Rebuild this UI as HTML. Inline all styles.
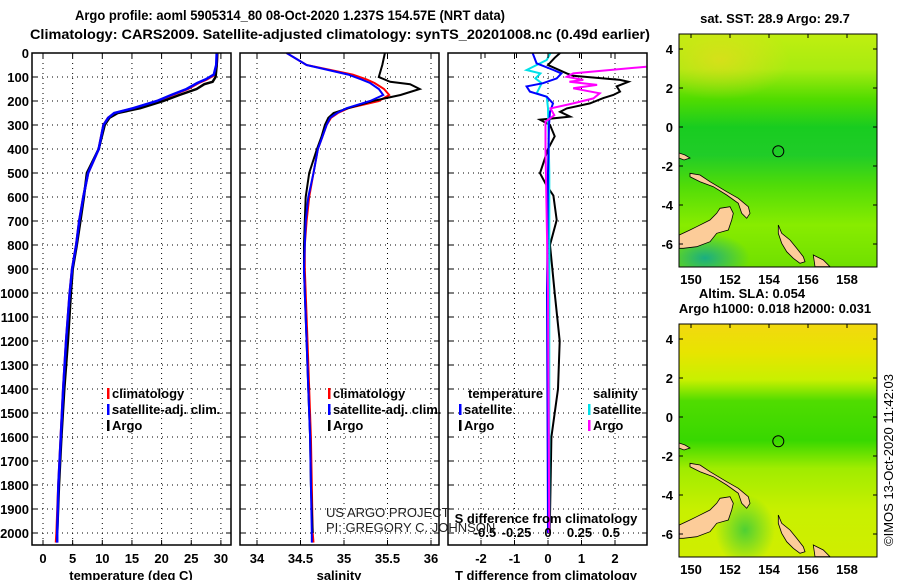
<!DOCTYPE html>
<html><head><meta charset="utf-8"><style>
html,body{margin:0;padding:0;background:#fff}
svg{display:block;font-family:"Liberation Sans",Arial,sans-serif}
text{font-weight:bold;font-size:13px;fill:#000}
</style></head><body>
<svg id="fig" width="900" height="580" viewBox="0 0 900 580" xmlns="http://www.w3.org/2000/svg">
<defs>
<linearGradient id="sstg" x1="0" y1="0" x2="0" y2="1">
<stop offset="0" stop-color="#c0ee10"/><stop offset="0.15" stop-color="#a8ec10"/><stop offset="0.28" stop-color="#50dc00"/><stop offset="0.4" stop-color="#18cc20"/><stop offset="0.52" stop-color="#20cc28"/><stop offset="0.65" stop-color="#50dc08"/><stop offset="0.82" stop-color="#88ec00"/><stop offset="1" stop-color="#70e000"/></linearGradient>
<radialGradient id="sstr" cx="0.5" cy="0.5" r="0.5">
<stop offset="0" stop-color="#f0d820" stop-opacity="0.6"/><stop offset="1" stop-color="#f0d820" stop-opacity="0"/></radialGradient>
<radialGradient id="teal" cx="0.5" cy="0.5" r="0.5">
<stop offset="0" stop-color="#10a890" stop-opacity="0.9"/><stop offset="1" stop-color="#10a890" stop-opacity="0"/></radialGradient>
<linearGradient id="slag" x1="0" y1="0" x2="0" y2="1">
<stop offset="0" stop-color="#f2d810"/><stop offset="0.12" stop-color="#e8e400"/><stop offset="0.24" stop-color="#c8f000"/><stop offset="0.33" stop-color="#50dc00"/><stop offset="0.5" stop-color="#38d800"/><stop offset="0.62" stop-color="#a0ec00"/><stop offset="0.8" stop-color="#c8f000"/><stop offset="1" stop-color="#d0ee00"/></linearGradient>
<radialGradient id="dg" cx="0.5" cy="0.5" r="0.5">
<stop offset="0" stop-color="#30c840" stop-opacity="0.8"/><stop offset="1" stop-color="#30c840" stop-opacity="0"/></radialGradient>
<clipPath id="c1"><rect x="679" y="34" width="198" height="233"/></clipPath>
<clipPath id="c2"><rect x="679" y="324" width="198" height="233"/></clipPath>
<clipPath id="p1"><rect x="32" y="53" width="199" height="492"/></clipPath>
<clipPath id="p2"><rect x="240" y="53" width="199" height="492"/></clipPath>
<clipPath id="p3"><rect x="448" y="53" width="199" height="492"/></clipPath>
<g id="land">
<polygon points="679.3,235 690,230 696.7,226.7 710,220 716.7,213.3 720,208.3 730,206.7 733.3,213.3 731.7,220 728.3,230 716.7,233.3 710,241.7 696.7,246.7 683.3,248.3 679.3,248.3" fill="#fccc99" stroke="#000" stroke-width="0.8"/>
<polygon points="690,173.3 700,175 710,181.7 726.7,191.7 738.3,198.3 748.3,206.7 750,213.3 746.7,218.3 741.7,213.3 738.3,203.3 726.7,195 713.3,186.7 700,181.7 690,176.7" fill="#fccc99" stroke="#000" stroke-width="0.8"/>
<polygon points="778.3,225 781.7,233.3 790,240 796.7,248.3 803.3,256.7 805,261.7 800,263.3 793.3,258.3 786.7,251.7 781.7,243.3 778.3,233.3" fill="#fccc99" stroke="#000" stroke-width="0.8"/>
<polygon points="813.3,255 823.3,260 830,266.7 815,266.7" fill="#fccc99" stroke="#000" stroke-width="0.8"/>
<polygon points="679,153 685,155 690,158 684,160 679,158" fill="#fccc99" stroke="#000" stroke-width="0.8"/>
</g>
</defs>
<text x="290" y="20" text-anchor="middle" style="font-size:14px" textLength="430" lengthAdjust="spacingAndGlyphs">Argo profile: aoml 5905314_80 08-Oct-2020 1.237S 154.57E (NRT data)</text>
<text x="340" y="39" text-anchor="middle" style="font-size:14px" textLength="620" lengthAdjust="spacingAndGlyphs">Climatology: CARS2009. Satellite-adjusted climatology: synTS_20201008.nc (0.49d earlier)</text>
<g id="panels"></g>
<g id="maps">
<text x="775" y="23" text-anchor="middle">sat. SST: 28.9 Argo: 29.7</text>
<g clip-path="url(#c1)">
<rect x="679" y="34" width="198" height="233" fill="url(#sstg)"/>
<ellipse cx="720" cy="60" rx="70" ry="40" fill="url(#sstr)"/>
<ellipse cx="705" cy="258" rx="45" ry="25" fill="url(#teal)"/>
<use href="#land"/>
<circle cx="778.3" cy="151.3" r="5.5" fill="none" stroke="#000" stroke-width="1"/>
</g>
<rect x="679" y="34" width="198" height="233" fill="none" stroke="#000" stroke-width="1"/>
<text x="752" y="298" text-anchor="middle">Altim. SLA: 0.054</text>
<text x="775" y="313" text-anchor="middle">Argo h1000: 0.018 h2000: 0.031</text>
<g clip-path="url(#c2)">
<rect x="679" y="324" width="198" height="233" fill="url(#slag)"/>
<ellipse cx="745" cy="530" rx="30" ry="35" fill="url(#dg)"/>
<use href="#land" transform="translate(0,290)"/>
<circle cx="778.3" cy="441.3" r="5.5" fill="none" stroke="#000" stroke-width="1"/>
</g>
<rect x="679" y="324" width="198" height="233" fill="none" stroke="#000" stroke-width="1"/>
<text transform="translate(893,460) rotate(-90)" text-anchor="middle" style="font-weight:normal">©IMOS 13-Oct-2020 11:42:03</text>
</g>
</svg>
<script>
// ---- data ----
const depthTicks=[0,100,200,300,400,500,600,700,800,900,1000,1100,1200,1300,1400,1500,1600,1700,1800,1900,2000];
const tempTicks=[0,5,10,15,20,25,30];
const salTicks=[34,34.5,35,35.5,36];
const salTickLabels=['34','34.5','35','35.5','36'];
const tdTicks=[-2,-1,0,1,2];
const sdTicks=[-0.5,-0.25,0,0.25,0.5];
const sdTickLabels=['-0.5','-0.25','0','0.25','0.5'];
const latTicks=[4,2,0,-2,-4,-6];
const lonTicks=[150,152,154,156,158];

const climDepth=[0,50,90,110,125,150,175,200,230,250,270,300,350,400,500,600,700,800,900,1000,1200,1400,1600,1800,2000,2040];
const climTemp=[29.4,29.3,29.0,27.6,26.2,24.4,21.8,19.3,15.4,12.2,11.0,10.2,9.8,9.4,7.6,6.8,6.1,5.6,4.9,4.5,3.9,3.4,3.0,2.6,2.3,2.2];
const satTemp=[29.3,29.2,28.8,27.4,26.0,24.2,21.6,19.2,15.2,12.0,11.0,10.2,9.8,9.4,7.6,6.8,6.1,5.6,4.9,4.5,3.9,3.4,3.0,2.6,2.4,2.4];
const argoDepth=[0,50,100,120,130,150,175,200,230,250,270,300,350,400,500,600,700,800,900,1000,1200,1400,1600,1800,2000];
const argoTemp=[29.4,29.3,29.1,28.6,27.2,25.9,23.0,20.3,16.4,12.6,11.2,10.4,9.9,9.4,7.4,6.9,6.3,5.7,5.0,4.7,4.2,3.6,3.1,2.7,2.4];

const climSal=[34.34,34.57,35.10,35.26,35.35,35.46,35.52,35.40,35.05,34.93,34.85,34.80,34.75,34.70,34.65,34.60,34.57,34.55,34.55,34.56,34.58,34.60,34.62,34.63,34.64,34.65];
const satSal=[34.34,34.57,35.05,35.20,35.30,35.40,35.45,35.30,35.03,34.92,34.84,34.80,34.75,34.70,34.65,34.59,34.56,34.55,34.54,34.55,34.57,34.59,34.61,34.62,34.63,34.63];
const argoSal=[35.47,35.44,35.40,35.53,35.76,35.87,35.65,35.33,35.05,34.88,34.82,34.78,34.74,34.69,34.60,34.56,34.55,34.54,34.54,34.55,34.57,34.59,34.61,34.62,34.64];

const tdSatDepth=[0,43,71,85,106,126,139,161,182,210,245,300,500,1000,2000];
const tdSat=[-0.46,-0.34,0.16,0.4,0.26,-0.15,-0.64,-0.54,-0.04,0.15,0.06,0.03,0.0,-0.03,0.0];
const tdArgoDepth=[0,20,50,85,95,112,120,139,161,175,188,210,231,245,265,278,300,347,400,501,550,594,696,800,1000,1200,1400,1600,2000];
const tdArgo=[0.36,0.2,0,0.56,0.75,2.15,2.4,2.05,2.15,1.95,1.65,1.25,0.56,0.36,0.66,-0.24,0.06,0.2,0,-0.24,-0.05,0.16,0.26,0.06,0.2,0.35,0.3,0.1,0.05];
const sdSatDepth=[0,29,71,85,106,126,168,182,230,500,1000,2000];
const sdSat=[0.02,-0.01,-0.17,-0.06,-0.1,-0.05,-0.09,-0.01,0.0,0.01,0.01,0.01];
const sdArgoDepth=[57,85,99,112,120,133,147,168,189,210,231,259,286,400,1000,2000];
const sdArgo=[0.78,0.2,0.15,0.28,0.17,0.39,0.2,0.41,0.36,0.2,0.02,0.05,-0.02,-0.02,0.0,0.01];

// ---- axes ----
const yD=d=>53+d*0.24;
const xT=t=>43+t*5.93;
const xS=s=>257+(s-34)*87;
const xTD=v=>548+v*33.5;
const xSD=v=>548+v*126;
const mapY=lat=>127-lat*19.5;
const mapX=lon=>691+(lon-150)*19.5;

const NS='http://www.w3.org/2000/svg';
const P=document.getElementById('panels');
function mk(tag,attrs,parent){const e=document.createElementNS(NS,tag);for(const k in attrs)e.setAttribute(k,attrs[k]);(parent||P).appendChild(e);return e;}
function txt(x,y,s,anchor,parent,style){const e=mk('text',{x:x,y:y,'text-anchor':anchor||'middle'},parent);if(style)e.setAttribute('style',style);e.textContent=s;return e;}
function line(xs,ys,color,w,parent){let d='';for(let i=0;i<xs.length;i++)d+=(i?'L':'M')+xs[i].toFixed(1)+','+ys[i].toFixed(1);return mk('path',{d:d,fill:'none',stroke:color,'stroke-width':w,'stroke-linejoin':'miter'},parent);}

const panels=[{x:32,name:'temperature'},{x:240,name:'salinity'},{x:448,name:'difference'}];
panels.forEach((p,pi)=>{
  const g=mk('g',{});
  
  
  const L=p.x,R=p.x+199,T=53,B=545;
  depthTicks.forEach(d=>{const y=yD(d);
    const gl=mk('line',{x1:L,x2:R,y1:y,y2:y,stroke:'#000','stroke-width':1,'stroke-dasharray':'1,4'},g);
    
    
    mk('line',{x1:L,x2:L+5,y1:y,y2:y,stroke:'#000','stroke-width':1},g);
    mk('line',{x1:R-5,x2:R,y1:y,y2:y,stroke:'#000','stroke-width':1},g);
    if(pi===0){const t=txt(29,y+5,String(d),'end',g);}
  });
  let xs,lab,fx;
  if(pi===0){xs=tempTicks;lab=tempTicks.map(String);fx=xT;}
  else if(pi===1){xs=salTicks;lab=salTickLabels;fx=xS;}
  else {xs=tdTicks;lab=tdTicks.map(String);fx=xTD;}
  xs.forEach((v,i)=>{const x=fx(v);
    mk('line',{x1:x,x2:x,y1:T,y2:B,stroke:'#000','stroke-width':1,'stroke-dasharray':'1,4'},g);
    mk('line',{x1:x,x2:x,y1:B-5,y2:B,stroke:'#000','stroke-width':1},g);
    mk('line',{x1:x,x2:x,y1:T,y2:T+5,stroke:'#000','stroke-width':1},g);
    const t=txt(x,563,lab[i],'middle',g);
  });
  const cg=mk('g',{'clip-path':'url(#p'+(pi+1)+')'},g);
  if(pi===0){
    let a=line(climTemp.map(xT),climDepth.map(yD),'#ff0000',2.5,cg);
    a=line(argoTemp.map(xT),argoDepth.map(yD),'#000',2.5,cg);
    a=line(satTemp.map(xT),climDepth.map(yD),'#0000ff',2.5,cg);
    const t=txt(131,580,'temperature (deg C)','middle',g);
  } else if(pi===1){
    let a=line(climSal.map(xS),climDepth.map(yD),'#ff0000',2,cg);
    a=line(argoSal.map(xS),argoDepth.map(yD),'#000',2,cg);
    a=line(satSal.map(xS),climDepth.map(yD),'#0000ff',2,cg);
    const t=txt(339,580,'salinity','middle',g);
  } else {
    let a=line(tdArgo.map(xTD),tdArgoDepth.map(yD),'#000',2,cg);
    a=line(sdSat.map(xSD),sdSatDepth.map(yD),'#00e0e8',2,cg);
    a=line(tdSat.map(xTD),tdSatDepth.map(yD),'#0000ff',2,cg);
    a=line(sdArgo.map(xSD),sdArgoDepth.map(yD),'#ff00ff',2,cg);
    sdTicks.forEach((v,i)=>{const x=xSD(v);mk('line',{x1:x,x2:x,y1:T,y2:T+5,stroke:'#000'},g);
      const t=txt(x,537,sdTickLabels[i],'middle',g);});
    let t=txt(546,523,'S difference from climatology','middle',g);
    t=txt(546,580,'T difference from climatology','middle',g);
  }
  const fr=mk('rect',{x:L,y:T,width:199,height:B-T,fill:'none',stroke:'#000','stroke-width':1.5},g);
  
});
// legends
function legend(x,y,color,label,name){const g=mk('g',{});
  
  
  mk('rect',{x:x,y:y-10,width:2.5,height:11,fill:color},g);txt(x+5,y,label,'start',g);}
[[107,'panel1'],[328,'panel2']].forEach(([x,n])=>{
  legend(x,398,'#ff0000','climatology','legend-climatology');
  legend(x,414,'#0000ff','satellite-adj. clim.','legend-satellite');
  legend(x,430,'#000','Argo','legend-argo');
});
let lt=txt(468,398,'temperature','start');
lt=txt(593,398,'salinity','start');
legend(459,414,'#0000ff','satellite','legend-t-satellite');
legend(459,430,'#000','Argo','legend-t-argo');
legend(588,414,'#00e0e8','satellite','legend-s-satellite');
legend(588,430,'#ff00ff','Argo','legend-s-argo');
lt=txt(326,517,'US ARGO PROJECT','start',null,'font-weight:normal;fill:#222');
lt=txt(326,532,'PI: GREGORY C. JOHNSON','start',null,'font-weight:normal;fill:#222');
// map ticks
const M=document.getElementById('maps');
[0,290].forEach(off=>{
  latTicks.forEach(l=>{const y=mapY(l)+off;
    mk('line',{x1:679,x2:683,y1:y,y2:y,stroke:'#000'},M);mk('line',{x1:873,x2:877,y1:y,y2:y,stroke:'#000'},M);
    const t=txt(673,y+5,String(l),'end',M);});
  lonTicks.forEach(l=>{const x=mapX(l);
    mk('line',{x1:x,x2:x,y1:34+off,y2:38+off,stroke:'#000'},M);
    const t=txt(x,284+off,String(l),'middle',M);});
});
</script>
</body></html>
